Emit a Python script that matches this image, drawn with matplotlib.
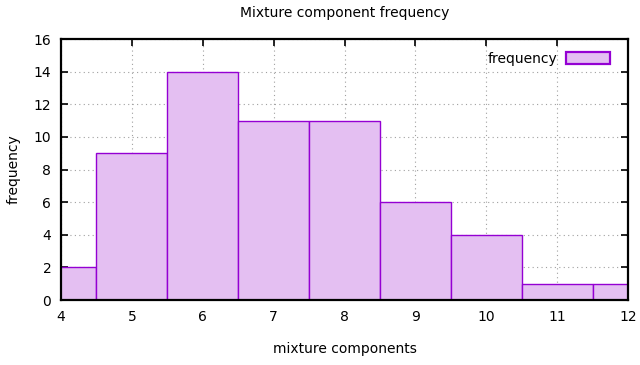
import matplotlib
matplotlib.use('Agg')
import matplotlib.pyplot as plt

# mixture component counts and their frequencies
components = [4, 5, 6, 7, 8, 9, 10, 11, 12]
frequency = [2, 9, 14, 11, 11, 6, 4, 1, 1]

x_ticks = [4, 5, 6, 7, 8, 9, 10, 11, 12]
y_ticks = [0, 2, 4, 6, 8, 10, 12, 14, 16]

fill_color = '#e4bff2'
edge_color = '#9400d3'

plt.rcParams['font.family'] = ['DejaVu Sans']
plt.rcParams['font.size'] = 10

fig = plt.figure(figsize=(6.4, 3.65), dpi=100)
ax = fig.add_axes([0.0953, 0.178, 0.886, 0.715])

ax.bar(components, frequency, width=1.0, color=fill_color, edgecolor=edge_color,
       linewidth=1.0, label='frequency', zorder=2)

ax.set_xlim(4, 12)
ax.set_ylim(0, 16)
ax.set_xticks(x_ticks)
ax.set_yticks(y_ticks)

ax.grid(True, color='#a0a0a0', linestyle=(0, (1, 3)), linewidth=0.8, zorder=0)
ax.set_axisbelow(True)
ax.tick_params(direction='in', top=True, right=True, length=5, width=1.2, pad=7)
for sp in ax.spines.values():
    sp.set_linewidth(1.6)
    sp.set_zorder(3)

ax.set_title('Mixture component frequency', fontsize=10, pad=16)
ax.set_xlabel('mixture components', labelpad=13)
ax.set_ylabel('frequency', labelpad=9)

leg = ax.legend(loc='upper right', bbox_to_anchor=(1.0, 1.02), frameon=False,
                markerfirst=False, handlelength=3.2, handleheight=0.9,
                borderaxespad=0.9, handletextpad=0.6, fontsize=10)
for h in leg.legend_handles:
    h.set_linewidth(1.6)

fig.savefig('out.png', dpi=100)
